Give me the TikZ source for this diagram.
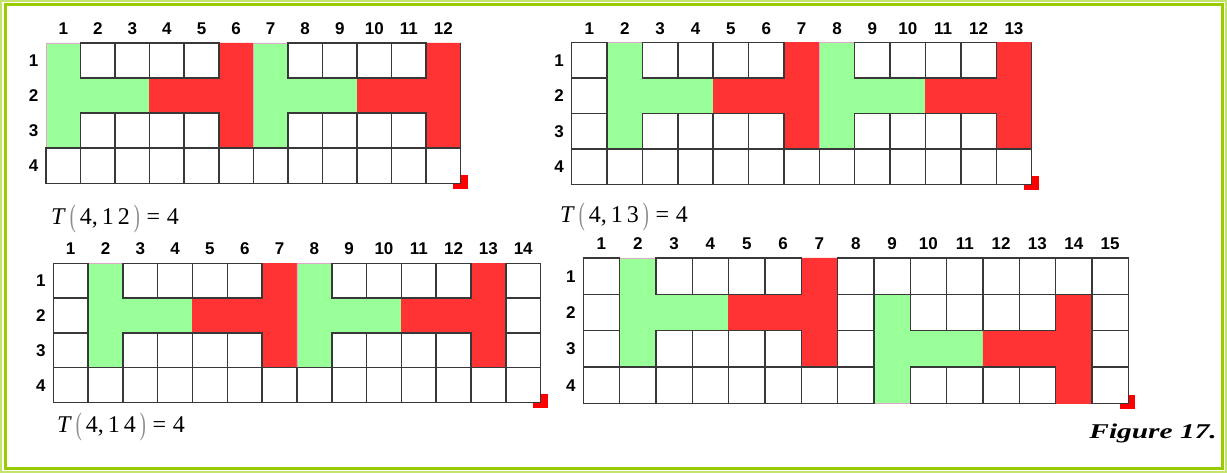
\documentclass[tikz,border=0pt]{standalone}
\usepackage{fontspec}
\setmainfont{Liberation Serif}
\newfontfamily\lblfont{Liberation Sans}
\definecolor{gridgray}{HTML}{383838}
\definecolor{pgreen}{HTML}{99FF99}
\definecolor{pred}{HTML}{FF3333}
\definecolor{pinkedge}{HTML}{E0A8C8}
\definecolor{markred}{HTML}{FF0000}
\definecolor{borddark}{HTML}{99CC00}
\definecolor{bordlight}{HTML}{C4E36A}
\tikzset{
  cell/.style={draw=gridgray, line width=1.5pt, fill=white},
  gridline/.style={draw=gridgray, line width=1.5pt},
  gpiece/.style={fill=pgreen, draw=pinkedge, line width=0.7pt},
  rpiece/.style={fill=pred, draw=pred, line width=0.7pt},
  collbl/.style={font=\lblfont\bfseries\fontsize{17}{17}\selectfont, inner sep=0pt,
                 text height=12.2pt, text depth=0pt},
  tlbl/.style={font=\fontsize{24}{24}\selectfont, inner sep=0pt, anchor=west},
}
\newcommand\gparen[1]{\textcolor{black!45}{\raisebox{-2.5pt}{\scalebox{0.75}[1.3]{#1}}}}
\newcommand\tval[1]{\textit{T}\,\gparen{(}\,4,\,#1\,\gparen{)}\;=\;4}
% white row: #1 row, #2 list of columns
\newcommand\wrow[2]{\foreach \cc in {#2} {\draw[cell] (\cc-1,#1-1) rectangle (\cc,#1);}}
% pair of pieces: #1 first column, #2 top row
\newcommand\hpair[2]{%
  \draw[gpiece] (#1-1,#2-1) -- (#1,#2-1) -- (#1,#2) -- (#1+2,#2) -- (#1+2,#2+1) -- (#1,#2+1) -- (#1,#2+2) -- (#1-1,#2+2) -- cycle;
  \draw[rpiece] (#1+2,#2) -- (#1+4,#2) -- (#1+4,#2-1) -- (#1+5,#2-1) -- (#1+5,#2+2) -- (#1+4,#2+2) -- (#1+4,#2+1) -- (#1+2,#2+1) -- cycle;}
% labels: #1 prefix, #2 number of columns
\newcommand\glabels[2]{%
  \foreach \cc in {1,...,#2} {\node[collbl, yshift=14.5pt] (#1c\cc) at (\cc-0.5,0) {\cc};}
  \foreach \rr in {1,...,4} {\node[collbl, xshift=-12.5pt] (#1r\rr) at (0,\rr-0.5) {\rr};}}
\newcommand\gmark[1]{\fill[markred] (#1,4) ++(-8pt,8pt) rectangle ++(15pt,-14pt);}

\begin{document}
\begin{tikzpicture}[x=1pt,y=-1pt]
\useasboundingbox (0,0) rectangle (1227,473);
\fill[white] (0,0) rectangle (1227,473);
% frame
\draw[bordlight, line width=1.6pt] (1,1) rectangle (1226,472);
\draw[borddark, line width=3pt] (5,5) rectangle (1222,468);

% ---------- grid 1 : 4 x 12 ----------
\begin{scope}[shift={(46,43)}, x=34.56pt, y=-35.08pt]
  \gmark{12}
  \hpair{1}{1} \hpair{7}{1}
  \wrow{1}{2,3,4,5,8,9,10,11}
  \wrow{3}{2,3,4,5,8,9,10,11}
  \wrow{4}{1,...,12}
  \draw[gridline] (12,0) -- (12,4);
  \glabels{a}{12}
\end{scope}
\node[tlbl] (ta) at (51,219) {\tval{1\,2}};

% ---------- grid 2 : 4 x 13 ----------
\begin{scope}[shift={(571.7,42.7)}, x=35.38pt, y=-35.4pt]
  \gmark{13}
  \hpair{2}{1} \hpair{8}{1}
  \wrow{1}{1,3,4,5,6,9,10,11,12}
  \wrow{2}{1}
  \wrow{3}{1,3,4,5,6,9,10,11,12}
  \wrow{4}{1,...,13}
  \draw[gridline] (13,0) -- (13,4);
  \glabels{b}{13}
\end{scope}
\node[tlbl] (tb) at (560,217) {\tval{1\,3}};

% ---------- grid 3 : 4 x 14 ----------
\begin{scope}[shift={(53.3,263.3)}, x=34.81pt, y=-34.75pt]
  \gmark{14}
  \hpair{2}{1} \hpair{8}{1}
  \wrow{1}{1,3,4,5,6,9,10,11,12,14}
  \wrow{2}{1,14}
  \wrow{3}{1,3,4,5,6,9,10,11,12,14}
  \wrow{4}{1,...,14}
  \glabels{c}{14}
\end{scope}
\node[tlbl] (tc) at (57,427) {\tval{1\,4}};

% ---------- grid 4 : 4 x 15 ----------
\begin{scope}[shift={(583.3,258)}, x=36.33pt, y=-36.33pt]
  \gmark{15}
  \hpair{2}{1} \hpair{9}{2}
  \wrow{1}{1,3,4,5,6,8,9,10,11,12,13,14,15}
  \wrow{2}{1,8,10,11,12,13,15}
  \wrow{3}{1,3,4,5,6,8,15}
  \wrow{4}{1,2,3,4,5,6,7,8,10,11,12,13,15}
  \glabels{d}{15}
\end{scope}

\node[inner sep=0pt, anchor=east] (fig) at (1217,433)
  {\scalebox{1.4}[1]{\fontsize{21}{21}\selectfont\bfseries\itshape Figure 17.}};
\end{tikzpicture}
\end{document}
